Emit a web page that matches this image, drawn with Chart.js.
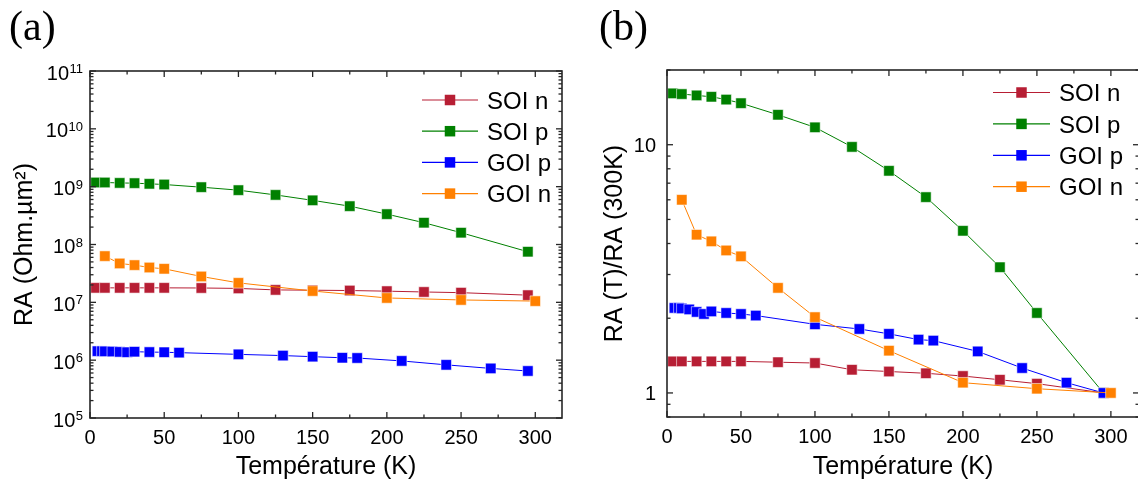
<!DOCTYPE html>
<html><head><meta charset="utf-8">
<script src="https://cdn.jsdelivr.net/npm/chart.js@4.4.1/dist/chart.umd.min.js"></script>
<style>
html,body{margin:0;padding:0;background:#fff;overflow:hidden;width:1138px;height:483px;position:relative;}
#ca{position:absolute;left:0;top:0;}
#cb{position:absolute;left:580px;top:0;}
</style></head><body>
<canvas id="ca" width="580" height="483"></canvas>
<canvas id="cb" width="580" height="483"></canvas>
<script>
// ---------- data ----------
const seriesNames = ['SOI n', 'SOI p', 'GOI p', 'GOI n'];
const seriesColors = ['#B71E34', '#008000', '#0000FF', '#FF8000'];

const T_SOI  = [4, 10, 20, 30, 40, 50, 75, 100, 125, 150, 175, 200, 225, 250, 295];
const T_GOIp = [5, 8, 10, 15, 20, 25, 30, 40, 50, 60, 100, 130, 150, 170, 180, 210, 240, 270, 295];
const T_GOIn = [10, 20, 30, 40, 50, 75, 100, 150, 200, 250, 300];

// panel (a): RA (Ohm.um2)
const RA_SOIn = [1.78e7, 1.78e7, 1.78e7, 1.78e7, 1.78e7, 1.78e7, 1.77e7, 1.74e7, 1.64e7, 1.62e7, 1.60e7, 1.56e7, 1.51e7, 1.47e7, 1.33e7];
const RA_SOIp = [1.18e9, 1.18e9, 1.16e9, 1.15e9, 1.12e9, 1.09e9, 9.8e8, 8.7e8, 7.2e8, 5.8e8, 4.6e8, 3.35e8, 2.38e8, 1.6e8, 7.5e7];
const RA_GOIp = [1.43e6, 1.43e6, 1.42e6, 1.41e6, 1.39e6, 1.37e6, 1.40e6, 1.38e6, 1.37e6, 1.35e6, 1.26e6, 1.20e6, 1.15e6, 1.10e6, 1.09e6, 9.7e5, 8.3e5, 7.2e5, 6.5e5];
const RA_GOIn = [6.3e7, 4.7e7, 4.4e7, 4.0e7, 3.8e7, 2.8e7, 2.17e7, 1.57e7, 1.19e7, 1.1e7, 1.05e7];

// panel (b): RA(T)/RA(300K)
const R_SOIn = [1.34, 1.34, 1.34, 1.34, 1.34, 1.34, 1.33, 1.32, 1.24, 1.22, 1.20, 1.17, 1.13, 1.09, 1.0];
const R_SOIp = [16.1, 16.0, 15.8, 15.6, 15.2, 14.7, 13.2, 11.75, 9.8, 7.85, 6.15, 4.5, 3.21, 2.1, 1.0];
const R_GOIp = [2.2, 2.2, 2.19, 2.17, 2.12, 2.08, 2.13, 2.1, 2.08, 2.05, 1.89, 1.81, 1.73, 1.64, 1.625, 1.47, 1.26, 1.1, 1.0];
const R_GOIn = [6.0, 4.34, 4.08, 3.75, 3.55, 2.65, 2.02, 1.48, 1.1, 1.04, 1.0];

// ticks
const xTickValues = [0, 50, 100, 150, 200, 250, 300];
const xMinorValues = [25, 75, 125, 175, 225, 275];
const yTickExpA = [5, 6, 7, 8, 9, 10, 11];           // 10^n labels for (a)
const yTickValuesB = [1, 10];
const yMinorB = [0.8, 0.9, 2, 3, 4, 5, 6, 7, 8, 9, 20];

const xTitle = 'Température (K)';
const yTitleA = 'RA (Ohm.µm²)';
const yTitleB = 'RA (T)/RA (300K)';

// ---------- helpers ----------
const SANS = '"Liberation Sans", Arial, Helvetica, sans-serif';
const SERIF = '"Liberation Serif", "Times New Roman", serif';
const AXIS = '#262626';

function pts(xs, ys) { return xs.map((x, i) => ({x: x, y: ys[i]})); }
function makeDatasets(arrs) {
  const xsets = [T_SOI, T_SOI, T_GOIp, T_GOIn];
  const order = [3, 2, 1, 0];
  return arrs.map((ys, i) => ({
    label: seriesNames[i],
    data: pts(xsets[i], ys),
    borderColor: seriesColors[i],
    backgroundColor: seriesColors[i],
    borderWidth: 1,
    pointStyle: 'rect',
    pointRadius: 7.4,
    pointHoverRadius: 7.4,
    pointBackgroundColor: seriesColors[i],
    pointBorderColor: 'rgba(255,255,255,0.55)',
    pointBorderWidth: 1,
    tension: 0,
    order: order[i]
  }));
}

function framePlugin(cfg) {
  return {
    id: 'frame_' + cfg.name,
    afterDraw(chart) {
      const ctx = chart.ctx;
      const a = chart.chartArea;
      const xs = chart.scales.x, ys = chart.scales.y;
      ctx.save();
      // frame
      ctx.strokeStyle = AXIS;
      ctx.lineWidth = 1.6;
      ctx.strokeRect(a.left, a.top, a.right - a.left, a.bottom - a.top);
      ctx.lineWidth = 1.3;
      const tick = (x1, y1, x2, y2) => { ctx.beginPath(); ctx.moveTo(x1, y1); ctx.lineTo(x2, y2); ctx.stroke(); };
      const MAJ = 6, MIN = 3.5;
      xTickValues.forEach(v => { const p = xs.getPixelForValue(v); tick(p, a.bottom, p, a.bottom - MAJ); tick(p, a.top, p, a.top + MAJ); });
      xMinorValues.forEach(v => { if (v > xs.max) return; const p = xs.getPixelForValue(v); tick(p, a.bottom, p, a.bottom - MIN); tick(p, a.top, p, a.top + MIN); });
      cfg.yMajor.forEach(v => { const p = ys.getPixelForValue(v); tick(a.left, p, a.left + MAJ, p); tick(a.right, p, a.right - MAJ, p); });
      cfg.yMinor.forEach(v => { if (v < ys.min || v > ys.max) return; const p = ys.getPixelForValue(v); tick(a.left, p, a.left + MIN, p); tick(a.right, p, a.right - MIN, p); });

      // x tick labels
      ctx.fillStyle = '#000';
      ctx.font = '20px ' + SANS;
      ctx.textAlign = 'center';
      ctx.textBaseline = 'alphabetic';
      xTickValues.forEach(v => { ctx.fillText(String(v), xs.getPixelForValue(v), a.bottom + 26); });
      // y tick labels
      cfg.drawYLabels(ctx, a, ys);

      // titles
      ctx.font = '25px ' + SANS;
      ctx.textAlign = 'center';
      ctx.fillText(xTitle, (a.left + a.right) / 2, 474);
      ctx.save();
      ctx.translate(cfg.yTitleX, (a.top + a.bottom) / 2);
      ctx.rotate(-Math.PI / 2);
      ctx.textBaseline = 'middle';
      ctx.fillText(cfg.yTitle, 0, 0);
      ctx.restore();

      // panel label
      ctx.font = '42px ' + SERIF;
      ctx.textAlign = 'left';
      ctx.textBaseline = 'alphabetic';
      ctx.fillText(cfg.panel, cfg.panelX, 40);

      // legend
      ctx.font = '24px ' + SANS;
      chart.data.datasets.forEach((ds, i) => {
        const y = cfg.legY + i * cfg.legDy;
        ctx.strokeStyle = ds.borderColor;
        ctx.lineWidth = 1.2;
        tick(cfg.legX1, y, cfg.legX2, y);
        const c = (cfg.legX1 + cfg.legX2) / 2, s = 10.5;
        ctx.fillStyle = ds.borderColor;
        ctx.fillRect(c - s / 2, y - s / 2, s, s);
        ctx.fillStyle = '#000';
        ctx.textAlign = 'left';
        ctx.textBaseline = 'alphabetic';
        ctx.fillText(ds.label, cfg.legTx, y + 8.6);
      });
      ctx.restore();
    }
  };
}

function baseOptions(pad, xmax, ymin, ymax) {
  return {
    responsive: false,
    animation: false,
    devicePixelRatio: 1,
    layout: { padding: pad, autoPadding: false },
    plugins: { legend: { display: false }, tooltip: { enabled: false } },
    scales: {
      x: { type: 'linear', min: 0, max: xmax, display: false },
      y: { type: 'logarithmic', min: ymin, max: ymax, display: false }
    }
  };
}

// ---------- chart (a) ----------
new Chart(document.getElementById('ca'), {
  type: 'line',
  data: { datasets: makeDatasets([RA_SOIn, RA_SOIp, RA_GOIp, RA_GOIn]) },
  options: baseOptions({left: 90, top: 71, right: 18, bottom: 65}, 318, 1e5, 1e11),
  plugins: [framePlugin({
    name: 'a',
    yMajor: yTickExpA.map(e => Math.pow(10, e)),
    yMinor: yTickExpA.slice(0, -1).flatMap(e => [2,3,4,5,6,7,8,9].map(m => m * Math.pow(10, e))),
    drawYLabels(ctx, a, ys) {
      yTickExpA.forEach(e => {
        const p = ys.getPixelForValue(Math.pow(10, e));
        const R = 83;
        ctx.textAlign = 'right';
        ctx.textBaseline = 'alphabetic';
        ctx.font = '13px ' + SANS;
        const ew = ctx.measureText(String(e)).width;
        ctx.fillText(String(e), R, p + 2);
        ctx.font = '20px ' + SANS;
        ctx.fillText('10', R - ew - 0.5, p + 8.5);
      });
    },
    yTitle: yTitleA, yTitleX: 25,
    panel: '(a)', panelX: 9,
    legY: 100, legDy: 31.2, legX1: 422, legX2: 478, legTx: 487
  })]
});

// ---------- chart (b) ----------
new Chart(document.getElementById('cb'), {
  type: 'line',
  data: { datasets: makeDatasets([R_SOIn, R_SOIp, R_GOIp, R_GOIn]) },
  options: baseOptions({left: 87, top: 70, right: 21, bottom: 66}, 319, 0.8, 20),
  plugins: [framePlugin({
    name: 'b',
    yMajor: yTickValuesB,
    yMinor: yMinorB,
    drawYLabels(ctx, a, ys) {
      ctx.font = '20px ' + SANS;
      ctx.textAlign = 'right';
      ctx.textBaseline = 'alphabetic';
      yTickValuesB.forEach(v => { ctx.fillText(String(v), 76, ys.getPixelForValue(v) + 7.2); });
    },
    yTitle: yTitleB, yTitleX: 35,
    panel: '(b)', panelX: 19,
    legY: 92.5, legDy: 31.4, legX1: 413, legX2: 470, legTx: 479
  })]
});
</script>
</body></html>
